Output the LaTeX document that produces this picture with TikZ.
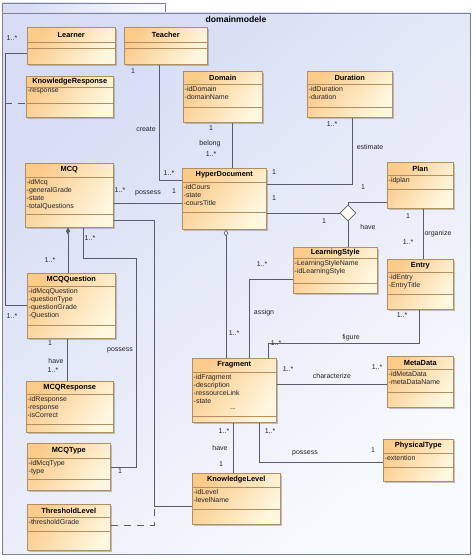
\documentclass[tikz,border=0pt]{standalone}
\usepackage{fontspec}
\setmainfont{Liberation Sans}
\usepackage{tikz}
\usetikzlibrary{calc, shadows, shapes.geometric, arrows.meta}
\definecolor{frameedge}{RGB}{125,130,152}
\definecolor{framefill}{RGB}{214,221,244}
\definecolor{framelight}{RGB}{249,250,254}
\definecolor{boxedge}{RGB}{178,142,98}
\definecolor{boxdark}{RGB}{251,203,138}
\definecolor{boxlight}{RGB}{255,248,224}
\definecolor{linkgray}{RGB}{88,92,108}
\definecolor{textdark}{RGB}{35,35,45}
\tikzset{
  classbox/.style={rectangle, draw=boxedge, line width=0.6pt, inner sep=0pt,
    top color=boxdark, bottom color=boxlight, shading angle=55,
    drop shadow={shadow xshift=1.6pt, shadow yshift=-1.6pt, fill=black!45, opacity=0.5}},
  classsep/.style={draw=boxedge, line width=0.5pt},
  classname/.style={font=\bfseries\fontsize{7.4}{9}\selectfont, text=black, inner sep=0pt},
  classattr/.style={anchor=north west, align=left, inner sep=0pt,
    font=\fontsize{7}{8}\selectfont, text=textdark},
  pkgframe/.style={draw=frameedge, line width=0.7pt,
    top color=framefill, bottom color=framelight, shading angle=40},
  pkgtitle/.style={font=\bfseries\fontsize{8.6}{10}\selectfont, text=black, inner sep=0pt},
  havediamond/.style={diamond, draw=linkgray, line width=0.6pt, inner sep=0pt,
    minimum width=16pt, minimum height=16pt, top color=white, bottom color=boxlight},
  assoc/.style={draw=linkgray, line width=0.6pt},
  assocdash/.style={draw=linkgray, line width=0.6pt, dash pattern=on 7pt off 6pt},
  lbl/.style={font=\fontsize{7}{8}\selectfont, text=textdark, inner sep=0pt}
}
% id, x, y, width, height, name compartment, attribute compartment, title, attributes
\newcommand{\umlclass}[9]{%
  \node[classbox, minimum width=#4pt, minimum height=#5pt, anchor=north west] (#1) at (#2,#3) {};
  \draw[classsep] ($(#1.north west)+(0,#6)$) -- ($(#1.north east)+(0,#6)$);
  \draw[classsep] ($(#1.north west)+(0,#7)$) -- ($(#1.north east)+(0,#7)$);
  \node[classname] (#1-name) at ($(#1.north)+(0,#6/2)$) {#8};
  \node[classattr] (#1-attr) at ($(#1.north west)+(1.5,#6+2)$) {#9};
}

\begin{document}
\begin{tikzpicture}[x=1pt, y=-1pt]
  \useasboundingbox (0,0) rectangle (474,559);

  % Package frame
  \draw[pkgframe] (2.5,3) rectangle (165,13);
  \draw[pkgframe] (2.5,13) rectangle (470,554);
  \node[pkgtitle] (pkgname) at (236,19) {domainmodele};

  % Place classes
  \umlclass{learner}{27}{27}{88}{37}{15}{21}{Learner}{}
  \umlclass{teacher}{124}{27}{83}{37}{15}{21}{Teacher}{}
  \umlclass{kresp}{26}{76}{87}{41}{11}{27}{KnowledgeResponse}{-response}
  \umlclass{domain}{183}{71}{79}{51}{13}{36}{Domain}{-idDomain\\-domainName}
  \umlclass{duration}{307}{71}{85}{46}{13}{36}{Duration}{-idDuration\\-duration}
  \umlclass{mcq}{25}{163}{88}{64}{14}{51}{MCQ}{-idMcq\\-generalGrade\\-state\\-totalQuestions}
  \umlclass{hyper}{182}{168}{84}{61}{14}{44}{HyperDocument}{-idCours\\-state\\-coursTitle}
  \umlclass{plan}{387}{162}{66}{46}{13}{27}{Plan}{-idplan}
  \umlclass{lstyle}{293}{247}{84}{46}{11}{36}{LearningStyle}{-LearningStyleName\\-idLearningStyle}
  \umlclass{entry}{387}{259}{66}{50}{13}{35}{Entry}{-idEntry\\-EntryTitle}
  \umlclass{mcqq}{27}{273}{88}{65}{13}{52}{MCQQuestion}{-idMcqQuestion\\-questionType\\-questionGrade\\-Question}
  \umlclass{mcqr}{26}{381}{87}{51}{13}{43}{MCQResponse}{-idResponse\\-response\\-isCorrect}
  \umlclass{fragment}{192}{358}{84}{64}{14}{58}{Fragment}{-idFragment\\-description\\-ressourceLink\\-state}
  \node[lbl] (fragment-more) at (233,409) {...};
  \umlclass{metadata}{387}{356}{66}{51}{13}{36}{MetaData}{-idMetaData\\-metaDataName}
  \umlclass{mcqtype}{27}{443}{83}{47}{15}{36}{MCQType}{-idMcqType\\-type}
  \umlclass{klevel}{192}{473}{88}{51}{14}{36}{KnowledgeLevel}{-idLevel\\-levelName}
  \umlclass{threshold}{27}{504}{83}{46}{13}{27}{ThresholdLevel}{-thresholdGrade}
  \umlclass{physical}{383}{439}{70}{42}{14}{28}{PhysicalType}{-extention}

  % Learner -- MCQQuestion, with KnowledgeResponse
  \draw[assoc] (learner.west |- 0,53) -| (5,305) -- (mcqq.west |- 0,305);
  \draw[assocdash] (5,103) -- (kresp.west |- 0,103);
  \node[lbl] (m1) at (12,38) {1..*};
  \node[lbl] (m2) at (12,316) {1..*};

  % Teacher -- HyperDocument
  \draw[assoc] (teacher.south -| 159,0) |- (hyper.west |- 0,180);
  \node[lbl] (m3) at (133,71) {1};
  \node[lbl] (l1) at (146,129) {create};
  \node[lbl] (m4) at (169,173) {1..*};

  % Domain -- HyperDocument
  \draw[assoc] (domain.south -| 232,0) -- (hyper.north -| 232,0);
  \node[lbl] (m5) at (211,128) {1};
  \node[lbl] (l2) at (210,144) {belong};
  \node[lbl] (m6) at (211,154) {1..*};

  % Duration -- HyperDocument
  \draw[assoc] (duration.south -| 352,0) |- (hyper.east |- 0,184);
  \node[lbl] (m7) at (332,124) {1..*};
  \node[lbl] (l3) at (370,147) {estimate};
  \node[lbl] (m8) at (274,172) {1};

  % HyperDocument -- Plan -- LearningStyle
  \node[havediamond] (have) at (348,213) {};
  \draw[assoc] (hyper.east |- have.west) -- (have.west);
  \draw[assoc] (have.north) |- (plan.west |- 0,202);
  \draw[assoc] (have.south) -- (lstyle.north -| have.south);
  \node[lbl] (m9) at (274,198) {1};
  \node[lbl] (m10) at (324,221) {1};
  \node[lbl] (m11) at (363,187) {1};
  \node[lbl] (l4) at (368,227) {have};

  % Plan -- Entry
  \draw[assoc] (plan.south -| 423,0) -- (entry.north -| 423,0);
  \node[lbl] (m12) at (408,216) {1};
  \node[lbl] (l5) at (438,234) {organize};
  \node[lbl] (m13) at (408,242) {1..*};

  % MCQ -- HyperDocument
  \draw[assoc] (mcq.east |- 0,203) -- (hyper.west |- 0,203);
  \node[lbl] (m14) at (120,190) {1..*};
  \node[lbl] (l6) at (148,193) {possess};
  \node[lbl] (m15) at (174,191) {1};

  % MCQ -- MCQQuestion
  \draw[assoc, {Diamond[length=7pt, width=4pt]}-] (mcq.south -| 68,0) -- (mcqq.north -| 68,0);
  \node[lbl] (m16) at (50,260) {1..*};

  % MCQ -- MCQType
  \draw[assoc] (mcq.south -| 83,0) |- (136,258) |- (mcqtype.east |- 0,467);
  \node[lbl] (m17) at (90,238) {1..*};
  \node[lbl] (l7) at (120,350) {possess};
  \node[lbl] (m18) at (120,471) {1};

  % MCQ -- KnowledgeLevel, with ThresholdLevel
  \draw[assoc] (mcq.east |- 0,220) -| (154,506) -- (klevel.west |- 0,506);
  \draw[assocdash] (threshold.east |- 0,525) -| (154,506);

  % HyperDocument -- Fragment
  \draw[assoc, {Diamond[open, length=7pt, width=4.5pt]}-] (hyper.south -| 226,0) -- (fragment.north -| 226,0);
  \node[lbl] (m19) at (234,333) {1..*};

  % LearningStyle -- Fragment
  \draw[assoc] (lstyle.west |- 0,279) -| (fragment.north -| 249,0);
  \node[lbl] (m20) at (262,264) {1..*};
  \node[lbl] (l8) at (264,313) {assign};

  % Entry -- Fragment
  \draw[assoc] (entry.south -| 419,0) |- (268,343) -- (fragment.north -| 268,0);
  \node[lbl] (m21) at (402,315) {1..*};
  \node[lbl] (l9) at (351,338) {figure};
  \node[lbl] (m22) at (276,343) {1..*};

  % Fragment -- MetaData
  \draw[assoc] (fragment.east |- 0,384) -- (metadata.west |- 0,384);
  \node[lbl] (m23) at (288,369) {1..*};
  \node[lbl] (l10) at (332,376) {characterize};
  \node[lbl] (m24) at (377,367) {1..*};

  % Fragment -- KnowledgeLevel
  \draw[assoc] (fragment.south -| 233,0) -- (klevel.north -| 233,0);
  \node[lbl] (m25) at (224,431) {1..*};
  \node[lbl] (l11) at (220,448) {have};
  \node[lbl] (m26) at (221,464) {1};

  % Fragment -- PhysicalType
  \draw[assoc] (fragment.south -| 259,0) |- (physical.west |- 0,462);
  \node[lbl] (m27) at (270,431) {1..*};
  \node[lbl] (l12) at (305,453) {possess};
  \node[lbl] (m28) at (373,450) {1};

  % MCQQuestion -- MCQResponse
  \draw[assoc] (mcqq.south -| 67,0) -- (mcqr.north -| 67,0);
  \node[lbl] (m29) at (50,343) {1};
  \node[lbl] (l13) at (56,361) {have};
  \node[lbl] (m30) at (53,370) {1..*};
\end{tikzpicture}
\end{document}
